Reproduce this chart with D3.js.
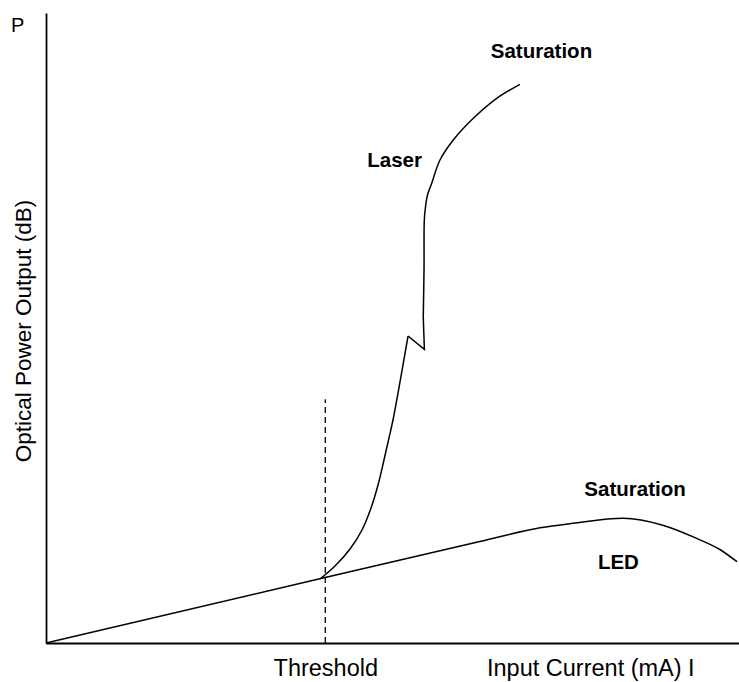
<!DOCTYPE html>
<html>
<head>
<meta charset="utf-8">
<script src="https://cdn.jsdelivr.net/npm/d3@7"></script>
<style>
  html, body { margin: 0; padding: 0; background: #fff; }
  svg { display: block; }
  text { font-family: "Liberation Sans", Arial, Helvetica, sans-serif; fill: #000; }
</style>
</head>
<body>
<svg id="chart" width="739" height="682"></svg>
<script>
// ---- data (abstract units: current 0..100, power 0..100) ----
const ledCurrent = [0, 39.5, 62.6, 71.3, 76.0, 83.3, 89.0, 93.9, 97.3, 99.7];
const ledPower   = [0, 10.2, 16.1, 18.3, 19.0, 19.8, 18.7, 16.6, 14.8, 12.9];

const laserRiseCurrent = [39.54, 41.70, 43.87, 45.60, 46.90, 47.91, 48.77, 49.49, 50.07, 52.24];
const laserRisePower   = [10.16, 12.22, 14.92, 17.94, 21.43, 25.08, 29.05, 32.54, 35.40, 48.73];

const laserKinkCurrent = [52.24, 54.6, 54.44];
const laserKinkPower   = [48.73, 46.6, 51.75];

const laserTopCurrent = [54.44, 54.55, 54.59, 54.76, 55.05, 55.66, 56.85, 58.77, 61.66, 65.04, 68.40];
const laserTopPower   = [51.75, 59.52, 67.14, 69.21, 71.11, 72.97, 76.67, 79.84, 83.29, 86.46, 88.68];

const thresholdCurrent = 40.3;
const thresholdTop = 38.7;

const xTickLabels = ["Threshold"];
const xTitle = "Input Current (mA) I";
const yTitle = "Optical Power Output (dB)";
const yAxisSymbol = "P";

const labelTexts = ["Saturation", "Laser", "Saturation", "LED"];
const labelCurrent = [71.5, 50.3, 85.0, 82.6];
const labelPower   = [92.9, 75.6, 23.3, 11.7];

// ---- drawing ----
const svg = d3.select("#chart");
const x = d3.scaleLinear().domain([0, 100]).range([46, 739]);
const y = d3.scaleLinear().domain([0, 100]).range([643, 13]);

const zip = (a, b) => a.map((v, i) => [v, b[i]]);

// axes
const xAxis = d3.axisBottom(x)
  .tickValues([thresholdCurrent])
  .tickFormat((d, i) => xTickLabels[i])
  .tickSize(0).tickSizeOuter(0).tickPadding(0);
const gx = svg.append("g").attr("transform", `translate(0,${y(0)})`).call(xAxis);
gx.select(".domain").attr("stroke", "#000").attr("stroke-width", 1.8);
gx.selectAll(".tick text")
  .attr("dy", null).attr("y", 33)
  .style("font-size", "23.5px")
  .style("font-family", "'Liberation Sans', Arial, sans-serif")
  .attr("fill", "#000");

const yAxis = d3.axisLeft(y).tickValues([]).tickSizeOuter(0);
const gy = svg.append("g").attr("transform", `translate(${x(0)},0)`).call(yAxis);
gy.select(".domain").attr("stroke", "#000").attr("stroke-width", 1.8);

// titles
svg.append("text")
  .attr("x", 487).attr("y", 676)
  .style("font-size", "23.5px")
  .style("white-space", "pre")
  .text(xTitle);

svg.append("text")
  .attr("transform", `translate(31,${331}) rotate(-90)`)
  .attr("text-anchor", "middle")
  .style("font-size", "22.5px")
  .text(yTitle);

svg.append("text")
  .attr("x", 11).attr("y", 32)
  .style("font-size", "20px")
  .text(yAxisSymbol);

// threshold dashed line
svg.append("line")
  .attr("x1", x(thresholdCurrent)).attr("x2", x(thresholdCurrent))
  .attr("y1", y(0)).attr("y2", y(thresholdTop))
  .attr("stroke", "#000").attr("stroke-width", 1.3)
  .attr("stroke-dasharray", "6,4");

const line = d3.line().x(d => x(d[0])).y(d => y(d[1]));

const curves = [
  { pts: zip(ledCurrent, ledPower), curve: d3.curveMonotoneX },
  { pts: zip(laserRiseCurrent, laserRisePower), curve: d3.curveCatmullRom.alpha(0.5) },
  { pts: zip(laserKinkCurrent, laserKinkPower), curve: d3.curveLinear },
  { pts: zip(laserTopCurrent, laserTopPower), curve: d3.curveCatmullRom.alpha(0.5) }
];

curves.forEach(c => {
  svg.append("path")
    .attr("d", line.curve(c.curve)(c.pts))
    .attr("fill", "none")
    .attr("stroke", "#000")
    .attr("stroke-width", 1.5)
    .attr("stroke-linejoin", "miter");
});

// bold labels
svg.selectAll("text.lbl")
  .data(labelTexts)
  .enter().append("text")
  .attr("class", "lbl")
  .attr("x", (d, i) => x(labelCurrent[i]))
  .attr("y", (d, i) => y(labelPower[i]))
  .attr("text-anchor", "middle")
  .style("font-size", "20.5px")
  .style("font-weight", "bold")
  .text(d => d);
</script>
</body>
</html>
